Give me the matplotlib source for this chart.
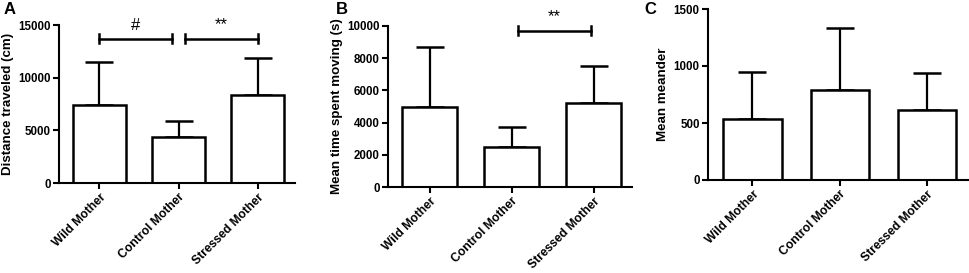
import matplotlib
matplotlib.use('Agg')
import matplotlib.pyplot as plt
import numpy as np

plt.rcParams['font.family'] = ['Liberation Sans', 'DejaVu Sans']
plt.rcParams['font.weight'] = 'bold'

groups = ['Wild Mother', 'Control Mother', 'Stressed Mother']

dist_mean = [7400, 4400, 8400]
dist_err = [4100, 1500, 3450]

time_mean = [5000, 2500, 5200]
time_err = [3700, 1200, 2300]

meander_mean = [535, 790, 610]
meander_err = [410, 540, 330]

W, H = 970, 273


def px_axes(fig, left, right, top, bottom):
    return fig.add_axes([left / W, 1 - bottom / H, (right - left) / W, (bottom - top) / H])


def draw_panel(ax, means, errs, ymax, ystep, ylabel):
    x = np.arange(len(groups))
    ax.bar(x, means, width=0.67, color='white', edgecolor='black', linewidth=1.8, zorder=2)
    ax.errorbar(x, means, yerr=[[0] * len(errs), errs], fmt='none', ecolor='black',
                elinewidth=1.6, capsize=10, capthick=1.8, zorder=1)
    ax.set_xlim(-0.51, 2.47)
    ax.set_ylim(0, ymax)
    ax.set_yticks(np.arange(0, ymax + 1, ystep))
    ax.set_xticks(x)
    ax.set_xticklabels(groups, rotation=45, ha='right', rotation_mode='anchor',
                       fontsize=8.7, fontweight='bold')
    for lab in ax.get_yticklabels():
        lab.set_fontsize(8.3)
        lab.set_fontweight('bold')
    ax.spines['top'].set_visible(False)
    ax.spines['right'].set_visible(False)
    ax.spines['left'].set_linewidth(1.5)
    ax.spines['bottom'].set_linewidth(1.5)
    ax.tick_params(direction='out', length=4, width=1.5, pad=2)
    ax.set_ylabel(ylabel, fontsize=9.6, fontweight='bold', labelpad=3)


def sig_bar(ax, x1, x2, y, text, ty, tick):
    ax.plot([x1, x2], [y, y], color='black', lw=1.8, clip_on=False)
    ax.plot([x1, x1], [y - tick, y + tick], color='black', lw=1.8, clip_on=False)
    ax.plot([x2, x2], [y - tick, y + tick], color='black', lw=1.8, clip_on=False)
    ax.text((x1 + x2) / 2, ty, text, ha='center', va='center', fontsize=12,
            fontweight='normal', clip_on=False)


fig = plt.figure(figsize=(9.7, 2.73), dpi=100)

axA = px_axes(fig, 59, 295, 25, 183)
draw_panel(axA, dist_mean, dist_err, 15000, 5000, 'Distance traveled (cm)')
sig_bar(axA, 0, 0.92, 13700, '#', 15000, 400)
sig_bar(axA, 1.08, 2.0, 13700, '**', 15000, 400)

axB = px_axes(fig, 388, 632, 26, 187)
draw_panel(axB, time_mean, time_err, 10000, 2000, 'Mean time spent moving (s)')
sig_bar(axB, 1.08, 1.97, 9700, '**', 10600, 270)

axC = px_axes(fig, 708, 968, 9, 180)
draw_panel(axC, meander_mean, meander_err, 1500, 500, 'Mean meander')

fig.text(4 / W, 1 - 10 / H, 'A', fontsize=12, fontweight='bold', va='center')
fig.text(336 / W, 1 - 10 / H, 'B', fontsize=12, fontweight='bold', va='center')
fig.text(644 / W, 1 - 10 / H, 'C', fontsize=12, fontweight='bold', va='center')

fig.savefig('out.png', dpi=100)
